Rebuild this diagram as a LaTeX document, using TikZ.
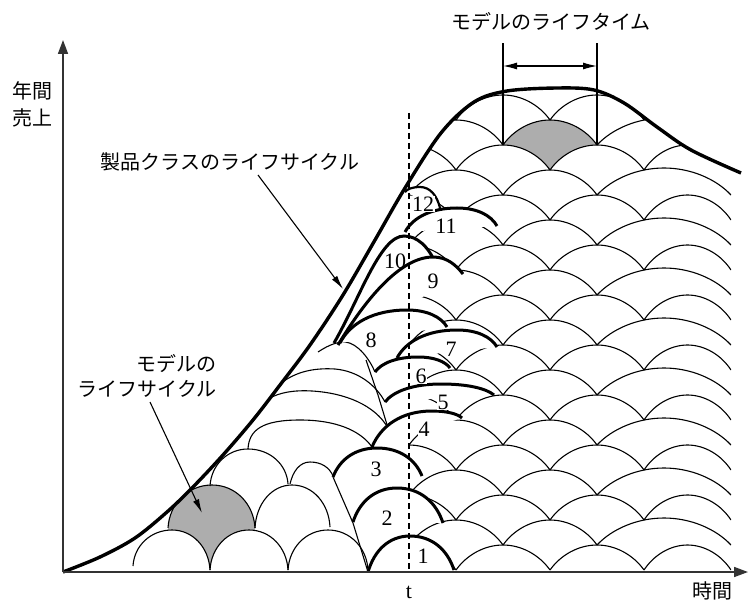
\documentclass[tikz,border=0pt]{standalone}
\usepackage{fontspec}
\setmainfont{Liberation Serif}
\newfontfamily\jpf{Noto Sans CJK JP}
\usetikzlibrary{arrows.meta}
\newcommand\humpg[9]{(#4,#5) .. controls ({#4+#1*(#6-#4)},{#5+#2*(#7-#5)}) and ({#6-#3*(#6-#4)},#7) .. (#6,#7) .. controls ({#6+#3*(#8-#6)},#7) and ({#8-#1*(#8-#6)},{#9+#2*(#7-#9)}) .. (#8,#9)}
\newcommand\hump{\humpg{0.15}{0.6}{0.5}}
\newcommand\lhump{\humpg{0.23}{0.61}{0.39}}
\newcommand\shump{\humpg{0.03}{0.56}{0.55}}
\newcommand\envclip{\clip plot[smooth,tension=0.55] coordinates {(63,572) (100,557) (135,538) (167,512) (193,487) (223,455) (253,420) (280,385) (310,345) (343,295) (375,240) (405,188) (441,133) (474,102) (507,91) (557,88) (594,90) (624,103) (657,127) (691,150) (741,173)} -- (741,600) -- (63,600) -- cycle;}
\newcommand\numarc[2]{\fill[white] #2 -- cycle; \draw[#1] #2;}
\begin{document}
\begin{tikzpicture}[x=0.5pt,y=-0.5pt,
  lat/.style={line width=0.55pt},
  numarcstyle/.style={line width=1.5pt},
  envstyle/.style={line width=1.7pt},
  axisstyle/.style={line width=0.8pt, black!80},
  shd/.style={fill=black!32},
  jlabel/.style={font=\jpf\fontsize{10}{12}\selectfont, inner sep=0pt},
  numlabel/.style={font=\fontsize{11}{12}\selectfont, inner sep=0.4pt, fill=white},
  tstyle/.style={font=\fontsize{11}{12}\selectfont, inner sep=0pt},
  ptr/.style={line width=0.55pt, -{Latex[length=7pt,width=3.2pt]}}]
\useasboundingbox (0,0) rectangle (748,604);

% ---------- right lattice of model life cycles ----------
\begin{scope}
  \clip (409,0) rectangle (731,572);
  \envclip
  \fill[shd] \lhump{503}{145}{550}{120}{597}{145} -- (597,170) -- (503,170) -- cycle;
  \fill[white] \lhump{456}{170}{503}{145}{550}{170} -- (550,176) -- (456,176) -- cycle;
  \fill[white] \lhump{550}{170}{597}{145}{644}{170} -- (644,176) -- (550,176) -- cycle;
  \foreach \i in {0,...,18}{
    \pgfmathsetmacro\yy{570-25*\i}
    \pgfmathsetmacro\yp{\yy-25}
    \pgfmathsetmacro\yq{\yy-27}
    \pgfmathtruncatemacro\rodd{mod(\i,2)}
    \ifnum\rodd=1
      \foreach \xa in {409,503}{
        \pgfmathsetmacro\xm{\xa+47}\pgfmathsetmacro\xb{\xa+94}
        \draw[lat] \lhump{\xa}{\yy}{\xm}{\yp}{\xb}{\yy};}
      \draw[lat] \lhump{597}{\yy}{664}{\yq}{731}{\yy};
    \else
      \foreach \xa in {362,456,550}{
        \pgfmathsetmacro\xm{\xa+47}\pgfmathsetmacro\xb{\xa+94}
        \draw[lat] \lhump{\xa}{\yy}{\xm}{\yp}{\xb}{\yy};}
      \draw[lat] \lhump{644}{\yy}{687.5}{\yp}{731}{\yy};
    \fi
  }
\end{scope}

% ---------- left group ----------
\begin{scope}
  \envclip
  \fill[shd] \shump{168}{528}{212}{485}{255}{528} -- (255,569) -- (168,569) -- cycle;
  \fill[white] \shump{133}{566}{172}{530}{210}{570} -- (210,576) -- (133,576) -- cycle;
  \fill[white] \shump{210}{570}{249}{530}{288}{570} -- (288,576) -- (210,576) -- cycle;
  \draw[lat] \shump{133}{566}{172}{530}{210}{570};
  \draw[lat] \shump{210}{570}{249}{530}{288}{570};
  \draw[lat] \shump{288}{570}{328}{530}{368}{570};
  \draw[lat] \shump{168}{528}{212}{485}{255}{528};
  \draw[lat] \shump{255}{528}{292}{485}{330}{527};
  \draw[lat] \shump{210}{486}{248}{449}{288}{484};
  \draw[lat] \hump{290}{484}{310}{462}{333}{476};
  \draw[lat] (248,449) .. controls (249,430) and (262,420) .. (300,420) .. controls (335,420) and (360,430) .. (372,447);
  \draw[lat] (268,399) .. controls (280,392) and (295,390) .. (312,391) .. controls (345,393) and (375,405) .. (388,428);
  \draw[lat] (284,381) .. controls (300,370) and (318,368) .. (335,369) .. controls (358,371) and (376,385) .. (385,402);
  \draw[lat] (318,352) .. controls (330,344) and (338,342) .. (345,342) .. controls (358,343) and (370,360) .. (375,372);
  \draw[lat] (366,360) -- (378,395) -- (388,428);
  \draw[lat] (333,477) -- (353,523) -- (368,572);
\end{scope}

% ---------- numbered model life cycles ----------
\numarc{line width=1.1pt}{\hump{405}{192}{420}{187}{440}{208}}
\numarc{numarcstyle}{\hump{405}{232}{457}{208}{497}{226}}
\numarc{numarcstyle}{(334,343) .. controls (360,298) and (380,236) .. (404,236) .. controls (418,236) and (428,248) .. (433,258)}
\numarc{numarcstyle}{(338,345) .. controls (365,300) and (400,257) .. (433,257) .. controls (447,257) and (456,265) .. (463,274)}
\numarc{numarcstyle}{\hump{340}{343}{407}{310}{447}{327}}
\numarc{numarcstyle}{\hump{397}{358}{457}{330}{497}{347}}
\numarc{numarcstyle}{\hump{375}{372}{418}{357}{450}{368}}
\numarc{numarcstyle}{\hump{385}{402}{441}{384}{494}{395}}
\numarc{numarcstyle}{\hump{372}{447}{432}{411}{462}{418}}
\numarc{numarcstyle}{\hump{333}{477}{377}{448}{422}{476}}
\numarc{numarcstyle}{\hump{353}{522}{397}{488}{443}{523}}
\numarc{numarcstyle}{\hump{368}{572}{410}{536}{454}{570}}

% ---------- product class envelope ----------
\draw[envstyle] plot[smooth,tension=0.55] coordinates {(63,572) (100,557) (135,538) (167,512) (193,487) (223,455) (253,420) (280,385) (310,345) (343,295) (375,240) (405,188) (441,133) (474,102) (507,91) (557,88) (594,90) (624,103) (657,127) (691,150) (741,173)};

% ---------- number labels ----------
\node[numlabel] (n1) at (423,556) {1};
\node[numlabel] (n2) at (387,518) {2};
\node[numlabel] (n3) at (376,469) {3};
\node[numlabel] (n4) at (424,429) {4};
\node[numlabel] (n5) at (443,402) {5};
\node[numlabel] (n6) at (421,376) {6};
\node[numlabel] (n7) at (451,349) {7};
\node[numlabel] (n8) at (371,340) {8};
\node[numlabel] (n9) at (433,281) {9};
\node[numlabel, fill=none] (n10) at (395,261) {10};
\node[numlabel] (n11) at (446,226) {11};
\node[numlabel] (n12) at (423,204) {12};

% ---------- t line ----------
\coordinate (ttop) at (409,113);
\coordinate (tbot) at (409,572);
\draw[line width=0.55pt, dash pattern=on 3pt off 2pt] (ttop) -- (tbot);

% ---------- axes ----------
\coordinate (origin) at (63,572);
\coordinate (ytip) at (63,40);
\coordinate (xtip) at (748,572);
\draw[axisstyle, -{Triangle[length=7pt,width=5pt]}] (origin) -- (ytip);
\draw[axisstyle, -{Triangle[length=7pt,width=5pt]}] (origin) -- (xtip);

% ---------- lifetime dimension ----------
\coordinate (lt1b) at (503,145);
\coordinate (lt1t) at (503,43);
\coordinate (lt2b) at (597,145);
\coordinate (lt2t) at (597,43);
\draw[lat] (lt1b) -- (lt1t);
\draw[lat] (lt2b) -- (lt2t);
\coordinate (la) at (503,66);
\coordinate (lb) at (597,66);
\draw[lat, {Latex[length=7pt,width=3.5pt]}-{Latex[length=7pt,width=3.5pt]}] (la) -- (lb);

% ---------- text labels ----------
\node[jlabel] (ylab1) at (32,91) {年間};
\node[jlabel] (ylab2) at (32,118) {売上};
\node[jlabel] (xlab) at (712,591) {時間};
\node[tstyle] (tlab) at (409,592) {t};
\node[jlabel] (pclc) at (230,162) {製品クラスのライフサイクル};
\node[jlabel] (mlt) at (551,22) {モデルのライフタイム};
\node[jlabel, anchor=east] (mlc1) at (217,364) {モデルの};
\node[jlabel, anchor=east] (mlc2) at (217,389) {ライフサイクル};

\coordinate (p1s) at (258,175);
\coordinate (p1e) at (343,289);
\draw[ptr] (p1s) -- (p1e);
\coordinate (p2s) at (150,402);
\coordinate (p2e) at (202,513);
\draw[ptr] (p2s) -- (p2e);
\end{tikzpicture}
\end{document}
